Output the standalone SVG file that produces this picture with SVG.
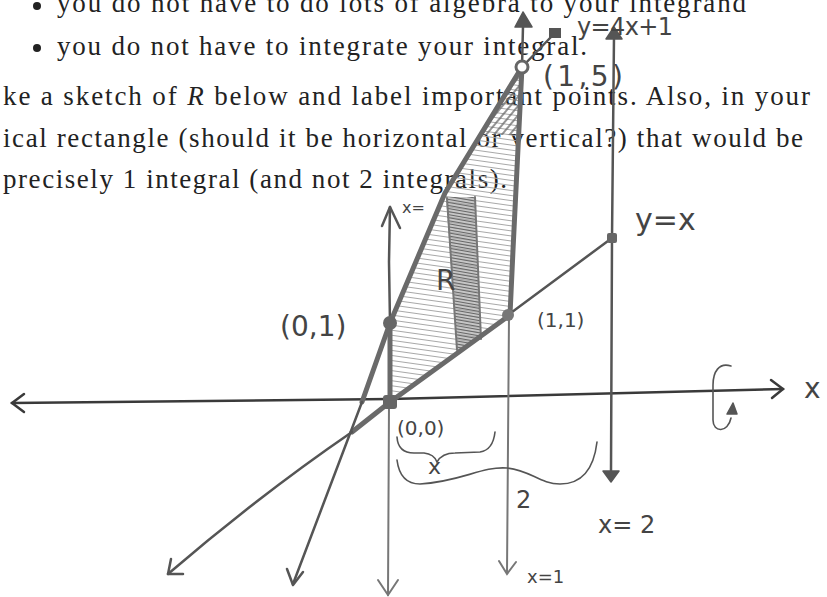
<svg xmlns="http://www.w3.org/2000/svg" width="827" height="597" viewBox="0 0 827 597">
<style>
.pt{font-family:"Liberation Serif","DejaVu Serif",serif;font-size:27px;fill:#222}
.hw{font-family:"DejaVu Sans","Liberation Sans",sans-serif;fill:#444}
.ln{fill:none;stroke:#555;stroke-width:2.5;stroke-linecap:round;stroke-linejoin:round}
.thin{fill:none;stroke:#777;stroke-width:2;stroke-linecap:round}
.thick{fill:none;stroke:#6a6a6a;stroke-width:5;stroke-linecap:round;stroke-linejoin:round}
.ax{fill:none;stroke:#3a3a3a;stroke-width:2.5;stroke-linecap:round}
.br{fill:none;stroke:#555;stroke-width:1.6;stroke-linecap:round}
.tri{fill:#555;stroke:#555;stroke-width:1.5;stroke-linejoin:round}
</style>
<defs>
<pattern id="hatch" width="40" height="5" patternUnits="userSpaceOnUse" patternTransform="rotate(8)">
<path d="M0 2.5 H40" stroke="#a8a8a8" stroke-width="1.2"/>
</pattern>
<pattern id="diag" width="6" height="6" patternUnits="userSpaceOnUse" patternTransform="rotate(-50)">
<path d="M0 3 H6" stroke="#666" stroke-width="1.4"/>
</pattern>
<pattern id="dense" width="10" height="3" patternUnits="userSpaceOnUse" patternTransform="rotate(10)">
<path d="M0 1.5 H10" stroke="#666" stroke-width="1.3"/>
</pattern>
<clipPath id="topclip"><rect x="440" y="60" width="100" height="75"/></clipPath>
</defs>
<rect width="827" height="597" fill="#fff"/>

<g id="printed-text">
<circle cx="37" cy="6" r="4" fill="#222"/>
<text class="pt" x="57" y="12" textLength="689" lengthAdjust="spacing">you do not have to do lots of algebra to your integrand</text>
<circle cx="37" cy="48" r="4" fill="#222"/>
<text class="pt" x="57" y="55" textLength="530" lengthAdjust="spacing">you do not have to integrate your integral.</text>
<text class="pt" x="3" y="105" textLength="807" lengthAdjust="spacing">ke a sketch of <tspan font-style="italic">R</tspan> below and label important points. Also, in your</text>
<text class="pt" x="3" y="147" textLength="800" lengthAdjust="spacing">ical rectangle (should it be horizontal or vertical?) that would be</text>
<text class="pt" x="3" y="188" textLength="504" lengthAdjust="spacing">precisely 1 integral (and not 2 integrals).</text>
</g>

<g id="region-R">
<path d="M390 323 L445 193 L522 67 L513 250 L510 315 L390 402 Z" fill="url(#hatch)"/>
<path d="M390 323 L445 193 L522 67 L513 250 L510 315 L390 402 Z" fill="url(#diag)" clip-path="url(#topclip)"/>
<path d="M446 197 L475 197 L481 339 L457 351 Z" fill="#bbb" opacity="0.6"/>
<path d="M446 197 L475 197 L481 339 L457 351 Z" fill="url(#dense)"/>
<path d="M447 198 L457 350 M475 197 L481 339" class="thin" stroke="#666"/>
</g>

<g id="axes">
<path class="ax" d="M12 403 L390 399 L783 389"/>
<path class="ax" d="M24 394 L12 403 L24 412"/>
<path class="ax" d="M771 380 L783 389 L772 398"/>
<path class="ln" d="M390 323 L389 262 L390 207"/>
<path class="ln" d="M382 226 L390 207 L400 228"/>
<path class="thin" d="M389 402 L388 595"/>
<path class="thin" d="M378 580 L388 595 L398 580"/>
</g>

<g id="connectors">
<!-- x = 1 -->
<path class="ln" d="M523 26 L522 67"/>
<path class="tri" d="M523 12 L515 27 L532 27 Z"/>
<path class="thick" d="M522 67 L513 250 L510 315"/>
<path class="thin" d="M509 315 L507 573"/>
<path class="thin" d="M499 561 L507 574 L516 562"/>
<!-- x = 2 -->
<path class="ln" d="M614 36 L612 238 L611 472"/>
<path class="tri" d="M614 27 L606 39 L622 39 Z"/>
<path class="tri" d="M603 471 L619 471 L611 482 Z"/>
<!-- y = x -->
<path class="ln" d="M508 315 L612 238"/>
<path class="thick" d="M390 402 L510 315"/>
<path class="thick" d="M390 402 L352 432"/>
<path class="ln" d="M352 432 Q260 495 168 574"/>
<path class="ln" d="M171 559 L168 574 L183 574"/>
<!-- y = 4x + 1 -->
<path class="ln" d="M522 67 L551 37"/>
<rect x="549" y="28" width="12" height="10" fill="#555"/>
<path class="thick" d="M522 67 L445 193 L390 323"/>
<path class="thick" d="M390 323 L362 402"/>
<path class="ln" d="M362 402 L293 584"/>
<path class="ln" d="M287 569 L293 585 L303 572"/>
<!-- y-axis boundary between (0,0) and (0,1) -->
<path class="thick" d="M390 323 L390 402"/>
</g>

<g id="points">
<circle cx="522" cy="67" r="6" fill="#fff" stroke="#666" stroke-width="3"/>
<circle cx="390" cy="323" r="7" fill="#666"/>
<circle cx="508" cy="315" r="6" fill="#777"/>
<rect x="383" y="395" width="14" height="14" rx="3" fill="#666"/>
<rect x="607" y="233" width="10" height="10" rx="2" fill="#666"/>
</g>

<g id="braces">
<path class="br" d="M397 437 Q398 453 414 453 L424 453 Q434 454 437 462 Q442 453 455 453 L480 452 Q493 450 495 432"/>
<path class="br" d="M397 460 Q400 484 420 484 C460 482 482 466 507 468 C530 470 540 484 560 484 Q592 484 597 442"/>
</g>

<g id="rotation">
<path class="br" stroke-width="2" d="M731 366 C719 362 713 372 713 385 L713 420 C713 433 728 433 731 418"/>
<path class="tri" d="M727 414 L737 414 L733 403 Z"/>
</g>

<g id="labels">
<text class="hw" x="577" y="35" font-size="24" textLength="96" lengthAdjust="spacing">y=4x+1</text>
<text class="hw" x="543" y="86" font-size="28" textLength="80" lengthAdjust="spacing">(1,5)</text>
<text class="hw" x="280" y="336" font-size="28">(0,1)</text>
<text class="hw" x="537" y="327" font-size="20">(1,1)</text>
<text class="hw" x="397" y="435" font-size="20">(0,0)</text>
<text class="hw" x="428" y="474" font-size="22">x</text>
<text class="hw" x="516" y="508" font-size="24">2</text>
<text class="hw" x="598" y="533" font-size="24">x= 2</text>
<text class="hw" x="527" y="583" font-size="18">x=1</text>
<text class="hw" x="635" y="230" font-size="30">y=x</text>
<text class="hw" x="402" y="213" font-size="16">x=</text>
<text class="hw" x="436" y="290" font-size="28">R</text>
<text class="hw" x="804" y="398" font-size="28">x</text>
</g>
</svg>
